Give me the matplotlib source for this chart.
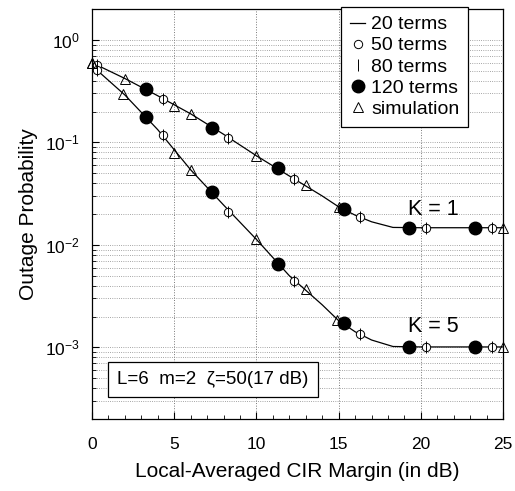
import matplotlib
matplotlib.use("Agg")
import matplotlib.pyplot as plt
from matplotlib.ticker import LogLocator, NullFormatter, MultipleLocator

plt.rcParams["font.family"] = ["Liberation Sans", "DejaVu Sans"]
plt.rcParams["mathtext.fontset"] = "custom"
plt.rcParams["mathtext.rm"] = "Liberation Sans"

# 20 terms (solid curve)
x_line = [0, 2, 4, 6, 8, 10, 12, 14, 15, 16, 17, 18.3, 20, 22, 24, 25]
k1_line = [0.60, 0.42, 0.285, 0.19, 0.12, 0.074, 0.047, 0.030, 0.0235, 0.0195,
           0.0168, 0.0148, 0.0147, 0.0147, 0.0147, 0.0147]
k5_line = [0.56, 0.29, 0.133, 0.054, 0.0245, 0.0113, 0.0050, 0.0026, 0.00182,
           0.00142, 0.00118, 0.00102, 0.00101, 0.00101, 0.00101, 0.00101]

# 50 / 80 terms
x_50 = [0.3, 4.3, 8.3, 12.3, 16.3, 20.3, 24.3]
k1_50 = [0.57, 0.265, 0.111, 0.044, 0.0186, 0.0147, 0.0147]
k5_50 = [0.51, 0.118, 0.021, 0.00447, 0.00134, 0.00101, 0.00101]

# 120 terms
x_120 = [3.3, 7.3, 11.3, 15.3, 19.3, 23.3]
k1_120 = [0.33, 0.139, 0.0558, 0.0222, 0.0147, 0.0147]
k5_120 = [0.178, 0.0326, 0.00646, 0.00174, 0.00101, 0.00101]

# simulation
x_sim_k1 = [0, 2, 5, 6, 10, 13, 15, 25]
k1_sim = [0.60, 0.42, 0.226, 0.19, 0.0736, 0.0384, 0.0232, 0.0147]
x_sim_k5 = [0, 1.9, 5, 6, 10, 13, 14.9, 25]
k5_sim = [0.60, 0.294, 0.078, 0.0537, 0.0114, 0.00368, 0.00185, 0.00101]

fig = plt.figure(figsize=(5.15, 4.91), dpi=100)
ax = fig.add_axes([0.1786, 0.1466, 0.7984, 0.835])

ax.plot(x_line, k1_line, color="black", lw=0.9, label="20 terms")
ax.plot(x_line, k5_line, color="black", lw=0.9)

ax.plot(x_50, k1_50, "o", ms=6, mfc="white", mec="black", mew=0.7, label="50 terms")
ax.plot(x_50, k5_50, "o", ms=6, mfc="white", mec="black", mew=0.7)
ax.plot(x_50, k1_50, "|", ms=9, color="black", mew=0.7, label="80 terms")
ax.plot(x_50, k5_50, "|", ms=9, color="black", mew=0.7)

ax.plot(x_120, k1_120, "o", ms=9, color="black", label="120 terms")
ax.plot(x_120, k5_120, "o", ms=9, color="black")

ax.plot(x_sim_k1, k1_sim, "^", ms=7, mfc="none", mec="black", mew=0.7,
        label="simulation", clip_on=False)
ax.plot(x_sim_k5, k5_sim, "^", ms=7, mfc="none", mec="black", mew=0.7, clip_on=False)

ax.set_yscale("log")
ax.set_xlim(0, 25)
ax.set_ylim(2e-4, 2)
ax.xaxis.set_major_locator(MultipleLocator(5))
ax.xaxis.set_minor_locator(MultipleLocator(1))
ax.yaxis.set_major_locator(LogLocator(base=10))
ax.yaxis.set_minor_locator(LogLocator(base=10, subs=range(2, 10)))
ax.yaxis.set_minor_formatter(NullFormatter())

ax.grid(True, which="major", axis="x", ls=":", color="#777777", lw=0.7)
ax.grid(True, which="both", axis="y", ls=":", color="#888888", lw=0.6)
ax.tick_params(which="both", direction="in", labelsize=12.5)
ax.tick_params(axis="x", pad=13)
ax.tick_params(axis="y", pad=9)
ax.tick_params(which="major", length=5)
ax.tick_params(which="minor", length=3)
for s in ax.spines.values():
    s.set_linewidth(0.9)

ax.set_xlabel("Local-Averaged CIR Margin (in dB)", fontsize=15, labelpad=7)
ax.set_ylabel("Outage Probability", fontsize=15, labelpad=5)

ax.text(19.2, 0.0195, "K = 1", fontsize=15.5)
ax.text(19.2, 0.00141, "K = 5", fontsize=15.5)
ax.text(1.55, 4.4e-4, "L=6  m=2  \u03b6=50(17 dB)", fontsize=13.5,
        bbox=dict(boxstyle="square,pad=0.5", fc="white", ec="black", lw=0.9))

leg = ax.legend(loc="upper right", bbox_to_anchor=(0.915, 1.005), fontsize=14,
                frameon=True, fancybox=False, edgecolor="black", framealpha=1,
                handlelength=0.8, handletextpad=0.3, borderpad=0.45,
                labelspacing=0.18, borderaxespad=0)
leg.get_frame().set_linewidth(0.9)

fig.savefig("out.png", dpi=100)
